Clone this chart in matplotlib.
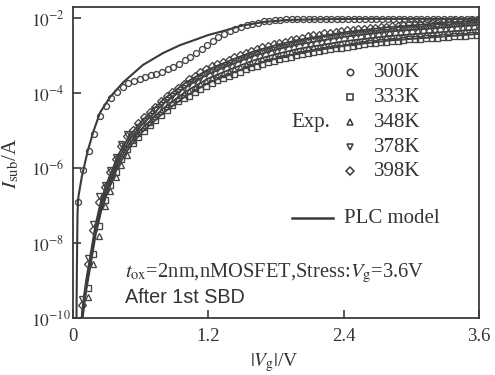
import numpy as np
import matplotlib
matplotlib.use("Agg")
import matplotlib.pyplot as plt

plt.rcParams['font.family'] = ['Liberation Serif', 'DejaVu Serif']
plt.rcParams['mathtext.fontset'] = 'stix'

# ---------------- data (log10 of I_sub in A) ----------------
# 300K experiment (circles)
v_300 = np.round(np.arange(0.04, 3.60, 0.05), 2)
log_300 = [-6.9, -6.05, -5.55, -5.1, -4.62, -4.35, -4.13, -3.97, -3.84, -3.74,
           -3.67, -3.62, -3.57, -3.53, -3.48, -3.43, -3.37, -3.3, -3.22, -3.13,
           -3.03, -2.93, -2.82, -2.72, -2.6, -2.5, -2.42, -2.34, -2.28, -2.23,
           -2.19, -2.15, -2.12, -2.09, -2.07, -2.05, -2.04,
           -2.03, -2.03, -2.03, -2.03, -2.03, -2.03, -2.03, -2.03, -2.03, -2.03,
           -2.03, -2.03, -2.03, -2.03, -2.03, -2.03, -2.03, -2.03,
           -2.02, -2.02, -2.02, -2.02, -2.02, -2.02, -2.02, -2.02, -2.02, -2.02,
           -2.02, -2.02, -2.02, -2.02, -2.02, -2.02, -2.02]

# high-temperature experiments
v_hot = np.round(np.arange(0.08, 3.60, 0.05), 2)
log_398 = [-9.65, -8.55, -7.65, -6.9, -6.5, -6.1, -5.75, -5.42, -5.15,
           -4.98, -4.8, -4.65, -4.5, -4.36, -4.22, -4.09, -3.97, -3.86, -3.76,
           -3.63, -3.54, -3.45, -3.36, -3.29, -3.22, -3.17, -3.11, -3.05, -2.99,
           -2.93, -2.87, -2.83, -2.78, -2.74, -2.7, -2.66, -2.63, -2.59, -2.55,
           -2.52, -2.49, -2.46, -2.44, -2.41, -2.39, -2.37, -2.35, -2.33, -2.31,
           -2.29, -2.29, -2.27, -2.26, -2.24, -2.23, -2.21, -2.2, -2.19, -2.17,
           -2.16, -2.15, -2.14, -2.13, -2.12, -2.11, -2.1, -2.09, -2.08, -2.07,
           -2.06, -2.05]
log_378 = [-9.5, -8.4, -7.5, -6.75, -6.45, -6.05, -5.7, -5.37, -5.1,
           -5.08, -4.9, -4.75, -4.6, -4.46, -4.32, -4.19, -4.07, -3.96, -3.86,
           -3.77, -3.68, -3.59, -3.5, -3.43, -3.36, -3.31, -3.25, -3.19, -3.13,
           -3.07, -3.01, -2.97, -2.92, -2.88, -2.84, -2.8, -2.77, -2.73, -2.69,
           -2.66, -2.63, -2.6, -2.58, -2.55, -2.53, -2.51, -2.49, -2.47, -2.45,
           -2.43, -2.42, -2.4, -2.39, -2.37, -2.36, -2.34, -2.33, -2.32, -2.3,
           -2.29, -2.28, -2.27, -2.26, -2.25, -2.24, -2.23, -2.22, -2.21, -2.2,
           -2.19, -2.18]
log_333 = [-10.3, -9.2, -8.3, -7.55, -6.85, -6.45, -6.1, -5.77, -5.5,
           -5.34, -5.16, -5.01, -4.86, -4.72, -4.58, -4.45, -4.33, -4.22, -4.12,
           -4.07, -3.98, -3.89, -3.8, -3.73, -3.66, -3.61, -3.55, -3.49, -3.43,
           -3.37, -3.31, -3.27, -3.22, -3.18, -3.14, -3.1, -3.07, -3.03, -2.99,
           -2.96, -2.93, -2.9, -2.88, -2.85, -2.83, -2.81, -2.79, -2.77, -2.75,
           -2.73, -2.69, -2.67, -2.66, -2.64, -2.63, -2.61, -2.6, -2.59, -2.57,
           -2.56, -2.55, -2.54, -2.53, -2.52, -2.51, -2.5, -2.49, -2.48, -2.47,
           -2.46, -2.45]
log_348 = [-10.55, -9.45, -8.55, -7.8, -7.0, -6.6, -6.25, -5.92, -5.65,
           -5.24, -5.06, -4.91, -4.76, -4.62, -4.48, -4.35, -4.23, -4.12, -4.02,
           -3.95, -3.86, -3.77, -3.68, -3.61, -3.54, -3.49, -3.43, -3.37, -3.31,
           -3.25, -3.19, -3.15, -3.1, -3.06, -3.02, -2.98, -2.95, -2.91, -2.87,
           -2.84, -2.81, -2.78, -2.76, -2.73, -2.71, -2.69, -2.67, -2.65, -2.63,
           -2.61, -2.57, -2.55, -2.54, -2.52, -2.51, -2.49, -2.48, -2.47, -2.45,
           -2.44, -2.43, -2.42, -2.41, -2.4, -2.39, -2.38, -2.37, -2.36, -2.35,
           -2.34, -2.33]

# PLC model curves
vm_300 = [0.03, 0.035, 0.04, 0.045, 0.05, 0.08, 0.13, 0.18, 0.24, 0.33, 0.45,
          0.62, 0.8, 0.95, 1.1, 1.2, 1.35, 1.5, 1.7, 1.9, 2.2, 2.6, 3.0, 3.6]
lm_300 = [-10.2, -8.5, -7.2, -6.85, -6.72, -6.2, -5.55, -5.03, -4.52, -4.1, -3.7,
          -3.25, -2.93, -2.72, -2.56, -2.45, -2.33, -2.2, -2.1, -2.05, -2.03,
          -2.02, -2.02, -2.02]
vm_hot = [0.075, 0.08, 0.1, 0.12, 0.15, 0.2, 0.25, 0.3, 0.4, 0.5, 0.6, 0.8, 1.0,
          1.2, 1.4, 1.6, 1.8, 2.0, 2.4, 2.8, 3.2, 3.6]
lm_398 = [-10.05, -9.85, -9.35, -8.92, -8.4, -7.5, -6.85, -6.4, -5.65, -5.15,
          -4.78, -4.17, -3.72, -3.37, -3.12, -2.89, -2.72, -2.58, -2.38, -2.24,
          -2.15, -2.06]
lm_378 = [-10.15, -9.95, -9.45, -9.02, -8.5, -7.6, -6.95, -6.5, -5.75, -5.25,
          -4.88, -4.29, -3.84, -3.49, -3.24, -3.01, -2.84, -2.7, -2.5, -2.36,
          -2.27, -2.18]
lm_348 = [-10.25, -10.05, -9.55, -9.12, -8.6, -7.7, -7.05, -6.6, -5.85, -5.35,
          -4.98, -4.41, -3.96, -3.61, -3.36, -3.13, -2.96, -2.82, -2.62, -2.48,
          -2.39, -2.3]
lm_333 = [-10.35, -10.15, -9.65, -9.22, -8.7, -7.8, -7.15, -6.7, -5.95, -5.45,
          -5.08, -4.53, -4.08, -3.73, -3.48, -3.25, -3.08, -2.94, -2.74, -2.6,
          -2.51, -2.42]

temps = ['300K', '333K', '348K', '378K', '398K']
markers = ['o', 's', '^', 'v', 'D']
x_ticks = [0, 1.2, 2.4, 3.6]
x_ticklabels = ['0', '1.2', '2.4', '3.6']
y_ticks = [1e-10, 1e-8, 1e-6, 1e-4, 1e-2]
y_ticklabels = [r'$10^{-10}$', r'$10^{-8}$', r'$10^{-6}$', r'$10^{-4}$', r'$10^{-2}$']

# ---------------- figure ----------------
fig = plt.figure(figsize=(4.95, 3.75), dpi=100)
ax = fig.add_axes([0.1475, 0.152, 0.82, 0.829])

ink = '#3a3a3a'
mk = '#444444'
txt = '#333333'

def p(v):
    return np.power(10.0, np.asarray(v, dtype=float))

# model lines
ax.plot(vm_300, p(lm_300), color=ink, lw=1.5, zorder=3)
for lm in (lm_398, lm_378, lm_348, lm_333):
    ax.plot(vm_hot, p(lm), color=ink, lw=1.3, zorder=3)

# experiments
mstyle = dict(ls='none', mfc='none', mec=mk, mew=0.95, zorder=4)
ax.plot(v_300, p(log_300), marker='o', ms=4.3, **mstyle)
ax.plot(v_hot, p(log_333), marker='s', ms=3.8, **mstyle)
ax.plot(v_hot, p(log_348), marker='^', ms=4.3, **mstyle)
ax.plot(v_hot, p(log_378), marker='v', ms=4.3, **mstyle)
ax.plot(v_hot, p(log_398), marker='D', ms=3.6, **mstyle)

ax.set_yscale('log')
ax.set_xlim(0, 3.6)
ax.set_ylim(1e-10, 10 ** -1.707)
ax.set_xticks(x_ticks)
ax.set_xticklabels(x_ticklabels)
ax.set_yticks(y_ticks)
ax.set_yticklabels(y_ticklabels)
ax.minorticks_off()
ax.tick_params(direction='in', length=6, width=1.2, color=ink, labelcolor=txt)
ax.tick_params(axis='x', pad=7.5, labelsize=13.5)
ax.tick_params(axis='y', pad=30, labelsize=12.5)
for lbl in ax.get_yticklabels():
    lbl.set_horizontalalignment('left')
for s in ax.spines.values():
    s.set_color(ink)
    s.set_linewidth(1.3)

# axis labels placed at the reference positions (axes-fraction coords)
def ax_xy(px, py):
    return ((px - 73) / 406.0, (318 - py) / 311.0)

ax.set_xlabel(r'$|V_{\rm g}|$/V', fontsize=14, color=txt)
ax.xaxis.set_label_coords(*ax_xy(274, 351))
ax.set_ylabel(r'$I_{\rm sub}$/A', fontsize=15, color=txt)
ax.yaxis.set_label_coords(*ax_xy(21, 163))

# legend (manual)
tr = ax.transAxes
rows_y = [72, 97, 122, 147, 171]
for lab, m, ry in zip(temps, markers, rows_y):
    xa, ya = ax_xy(350, ry)
    ms = 4.6 if m in 'o^v' else 4.0
    ax.plot([xa], [ya], marker=m, ms=ms, mfc='none', mec=ink, mew=1.1,
            transform=tr, clip_on=False)
    xt, yt = ax_xy(374, ry)
    ax.text(xt, yt, lab, transform=tr, fontsize=15, color=txt,
            va='center', ha='left')
xe, ye = ax_xy(330, 122)
ax.text(xe, ye, 'Exp.', transform=tr, fontsize=15, color=txt,
        va='center', ha='right')
x1, yl = ax_xy(292, 218)
x2, _ = ax_xy(333, 218)
ax.plot([x1, x2], [yl, yl], color=ink, lw=1.8, transform=tr, clip_on=False)
xt, _ = ax_xy(344, 218)
ax.text(xt, yl, 'PLC model', transform=tr, fontsize=15, color=txt,
        va='center', ha='left')

# annotations
xa, ya = ax_xy(125, 273)
ax.text(xa, ya, r'$t_{\rm ox}$=2nm,nMOSFET,Stress:$V_{\rm g}$=3.6V',
        transform=tr, fontsize=14.8, color=txt, va='center', ha='left')
xa, ya = ax_xy(125, 297)
ax.text(xa, ya, 'After 1st SBD', transform=tr, fontsize=14.2,
        family=['Liberation Sans', 'DejaVu Sans'], color=txt,
        va='center', ha='left')

fig.savefig('out.png', dpi=100)
